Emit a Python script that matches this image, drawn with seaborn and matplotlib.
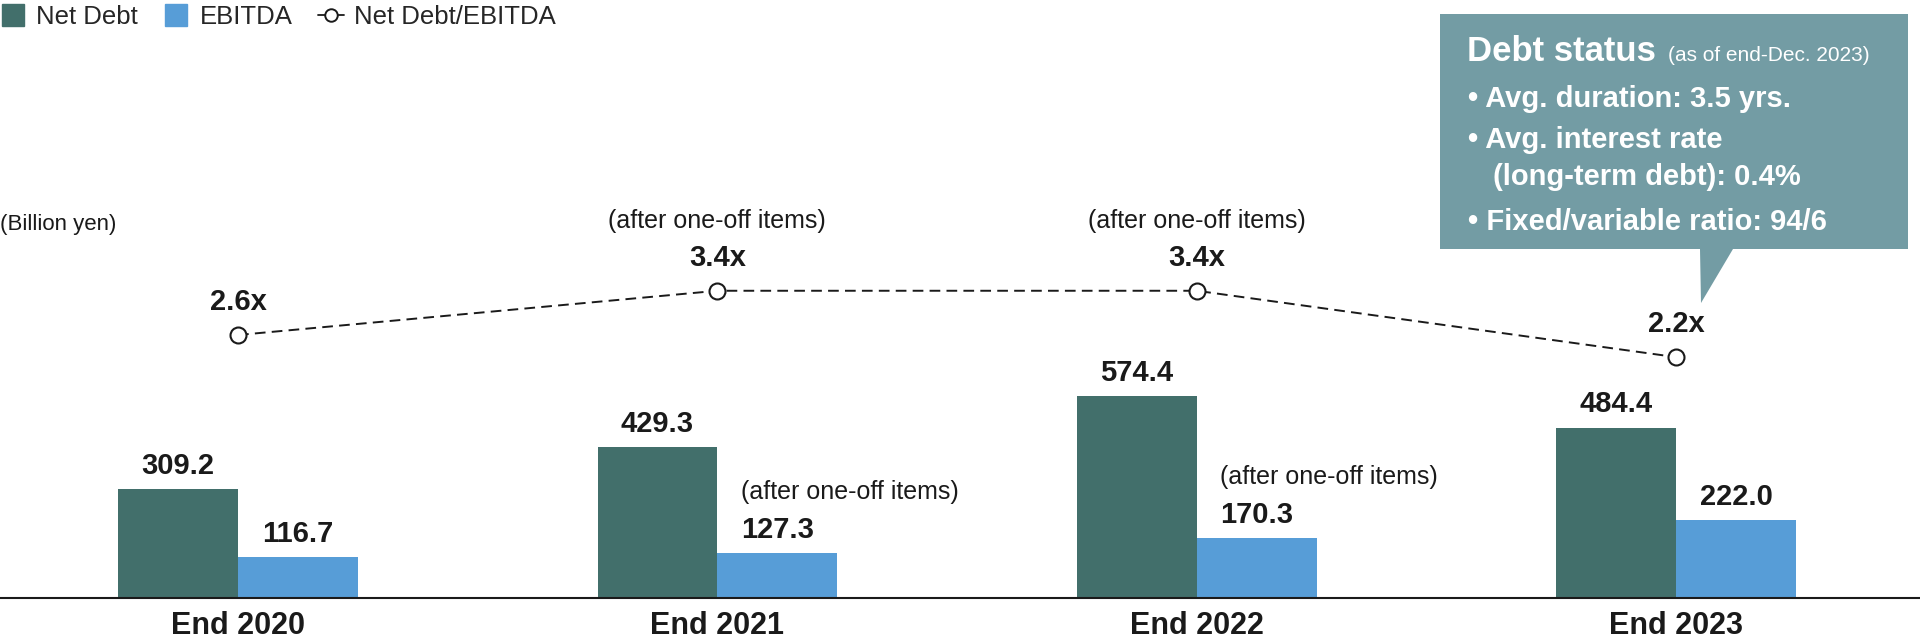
import numpy as np
import pandas as pd
import seaborn as sns
import matplotlib.pyplot as plt
from matplotlib.lines import Line2D
from matplotlib.patches import Polygon

# data (billion yen / multiple)
years = ['End 2020', 'End 2021', 'End 2022', 'End 2023']
net_debt = [309.2, 429.3, 574.4, 484.4]
ebitda = [116.7, 127.3, 170.3, 222.0]
ratio = [2.6, 3.4, 3.4, 2.2]
one_off = [False, True, True, False]

series_names = ['Net Debt', 'EBITDA']
ratio_name = 'Net Debt/EBITDA'
unit_label = '(Billion yen)'
note_label = '(after one-off items)'
box_title = 'Debt status'
box_subtitle = '(as of end-Dec. 2023)'
box_lines = ['• Avg. duration: 3.5 yrs.', '• Avg. interest rate',
             '(long-term debt): 0.4%', '• Fixed/variable ratio: 94/6']

dark = '#426f6b'
blue = '#579dd7'
box_col = '#739ca4'
ink = '#1a1a1a'

df = pd.DataFrame({
    'year': years * 2,
    'series': [series_names[0]] * 4 + [series_names[1]] * 4,
    'value': net_debt + ebitda,
})

sns.set_theme(style='white')
plt.rcParams['font.family'] = ['Liberation Sans', 'DejaVu Sans']

W, H = 1920, 640
fig = plt.figure(figsize=(W / 100, H / 100), dpi=100)
ax = fig.add_axes([0, 42 / H, 1, 598 / H])

sns.barplot(data=df, x='year', y='value', hue='series', hue_order=series_names,
            palette=[dark, blue], width=0.5, gap=0, saturation=1, errorbar=None,
            legend=False, linewidth=0, ax=ax)

# value labels on bars
for cont, vals in zip(ax.containers, [net_debt, ebitda]):
    for i, (bar, v) in enumerate(zip(cont, vals)):
        x = bar.get_x() + bar.get_width() / 2
        t = ax.annotate(f'{v:.1f}', (x, v), xytext=(0, 11), textcoords='offset points',
                        ha='center', va='baseline', fontsize=21, fontweight='bold', color=ink)
        if vals is ebitda and one_off[i]:
            ax.annotate(note_label, xy=(0, v), xycoords=(t, 'data'), xytext=(0, 39),
                        textcoords='offset points', ha='left', va='baseline',
                        fontsize=18, color=ink)

# ratio line on a second scale
ax2 = ax.twinx()
sns.lineplot(x=np.arange(len(years)), y=ratio, ax=ax2, color=ink, lw=1.4,
             linestyle=(0, (5.5, 3.2)), marker='o', markersize=11.5,
             markerfacecolor='white', markeredgecolor=ink, markeredgewidth=1.5,
             legend=False)
for i, r in enumerate(ratio):
    ax2.annotate(f'{r}x', (i, r), xytext=(0, 18), textcoords='offset points',
                 ha='center', va='baseline', fontsize=21, fontweight='bold', color=ink)
    if one_off[i]:
        ax2.annotate(note_label, (i, r), xytext=(0, 45.5), textcoords='offset points',
                     ha='center', va='baseline', fontsize=18, color=ink)

ax.set_xlim(-0.4966, 3.509)
ax.set_ylim(0, 1699)
ax2.set_ylim(-2.156, 8.658)

ax.set_xticks(range(len(years)))
ax.set_xticklabels(years, fontsize=22, fontweight='bold', color=ink)
ax.tick_params(axis='x', length=0, pad=9)
ax.set_yticks([])
ax2.set_yticks([])
ax.set_xlabel('')
ax.set_ylabel('')
ax2.set_ylabel('')
for s in ['top', 'left', 'right']:
    ax.spines[s].set_visible(False)
for s in ax2.spines.values():
    s.set_visible(False)
ax.spines['bottom'].set_color(ink)
ax.spines['bottom'].set_linewidth(1.5)

# legend
handles = [
    Line2D([], [], marker='s', linestyle='none', markersize=15.5, color=dark),
    Line2D([], [], marker='s', linestyle='none', markersize=15.5, color=blue),
    Line2D([], [], color=ink, lw=1.3, marker='o', markersize=9,
           markerfacecolor='white', markeredgecolor=ink, markeredgewidth=1.4),
]
fig.legend(handles, series_names + [ratio_name], loc='upper left', bbox_to_anchor=(0, 0.992),
           frameon=False, ncol=3, fontsize=18.5, handlelength=1.0, handletextpad=0.4,
           columnspacing=1.0, borderpad=0, borderaxespad=0)

fig.text(0, 1 - 230 / H, unit_label, fontsize=16, color=ink, va='baseline', ha='left')

# callout box
def fx(px):
    return px / W

def fy(py):
    return 1 - py / H

pts = [(1440, 14), (1908, 14), (1908, 249), (1733, 249), (1701, 303), (1700, 249), (1440, 249)]
fig.patches.append(Polygon([(fx(a), fy(b)) for a, b in pts], closed=True,
                           transform=fig.transFigure, facecolor=box_col, edgecolor='none'))

title = fig.text(fx(1467), fy(61), box_title, fontsize=25, fontweight='bold',
                 color='white', va='baseline', ha='left')
fig.canvas.draw()
tb = title.get_window_extent()
fig.text(fx(tb.x1 + 12), fy(61), box_subtitle, fontsize=15, color='white',
         va='baseline', ha='left')

line_pos = [(1468, 107), (1468, 148), (1493, 185), (1468, 230)]
for txt, (px, py) in zip(box_lines, line_pos):
    fig.text(fx(px), fy(py), txt, fontsize=21, fontweight='bold', color='white',
             va='baseline', ha='left')

fig.savefig('out.png', dpi=100)
